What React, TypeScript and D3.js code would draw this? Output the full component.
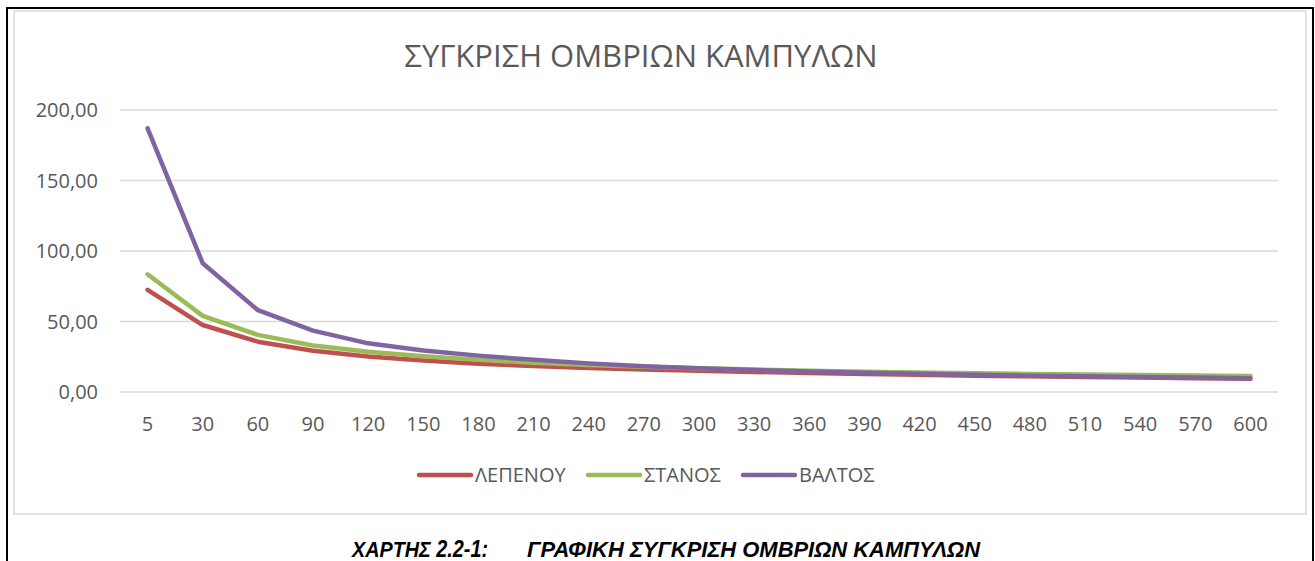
// App.tsx
import React, { useRef, useEffect } from 'react';
import * as d3 from 'd3';

const durations = [5, 30, 60, 90, 120, 150, 180, 210, 240, 270, 300, 330, 360, 390, 420, 450, 480, 510, 540, 570, 600];

const lepenou = [72.5, 47.5, 35.7, 29.3, 25.2, 22.3, 20.1, 18.4, 17.0, 15.9, 15.0, 14.2, 13.5, 12.8, 12.2, 11.6, 11.1, 10.6, 10.2, 9.8, 9.4];
const stanos = [83.5, 54.0, 40.5, 33.0, 28.5, 25.3, 22.8, 20.8, 19.2, 17.9, 16.8, 15.9, 15.1, 14.4, 13.8, 13.3, 12.8, 12.4, 12.0, 11.7, 11.4];
const valtos = [187.0, 91.3, 58.0, 43.5, 34.5, 29.5, 25.8, 22.8, 20.3, 18.3, 16.8, 15.6, 14.6, 13.7, 12.9, 12.2, 11.6, 11.1, 10.6, 10.2, 9.8];

const seriesNames = ['ΛΕΠΕΝΟΥ', 'ΣΤΑΝΟΣ', 'ΒΑΛΤΟΣ'];
const seriesColors = ['#C0504D', '#9BBB59', '#8064A2'];
const yTicks = [0, 50, 100, 150, 200];

const title = 'ΣΥΓΚΡΙΣΗ ΟΜΒΡΙΩΝ ΚΑΜΠΥΛΩΝ';
const captionLabel = 'ΧΑΡΤΗΣ 2.2-1:';
const captionText = 'ΓΡΑΦΙΚΗ ΣΥΓΚΡΙΣΗ ΟΜΒΡΙΩΝ ΚΑΜΠΥΛΩΝ';

const width = 1315;
const height = 561;
const font = "'Open Sans', 'DejaVu Sans', sans-serif";

const App = () => {
  const svgRef = useRef<SVGSVGElement | null>(null);

  useEffect(() => {
    if (!svgRef.current) return;
    const svg = d3.select(svgRef.current);
    svg.selectAll('*').remove();

    svg.append('rect').attr('width', width).attr('height', height).attr('fill', '#fff');

    // outer black frame (open at bottom)
    svg.append('path')
      .attr('d', `M7,${height} V8 H1313 V${height}`)
      .attr('fill', 'none')
      .attr('stroke', '#000')
      .attr('stroke-width', 2);

    // chart area border
    svg.append('rect')
      .attr('x', 14).attr('y', 11)
      .attr('width', 1292).attr('height', 503)
      .attr('fill', '#fff')
      .attr('stroke', '#D9D9D9')
      .attr('stroke-width', 1.5);

    const x = d3.scaleBand<string>()
      .domain(durations.map(String))
      .range([120, 1278])
      .padding(0);
    const cx = (d: number) => (x(String(d)) ?? 0) + x.bandwidth() / 2;

    const y = d3.scaleLinear().domain([0, 200]).range([392, 110]);

    // gridlines
    svg.append('g')
      .selectAll('line')
      .data(yTicks)
      .enter()
      .append('line')
      .attr('x1', 120).attr('x2', 1278)
      .attr('y1', d => y(d)).attr('y2', d => y(d))
      .attr('stroke', '#D9D9D9')
      .attr('stroke-width', 1.3);

    const fmt = (d: number) => d3.format('.2f')(d).replace('.', ',');

    svg.append('g')
      .selectAll('text')
      .data(yTicks)
      .enter()
      .append('text')
      .attr('x', 98)
      .attr('y', d => y(d))
      .attr('dy', '0.35em')
      .attr('text-anchor', 'end')
      .attr('font-family', font)
      .attr('font-size', 20)
      .attr('fill', '#595959')
      .text(fmt);

    svg.append('g')
      .selectAll('text')
      .data(durations)
      .enter()
      .append('text')
      .attr('x', d => cx(d))
      .attr('y', 431)
      .attr('text-anchor', 'middle')
      .attr('font-family', font)
      .attr('font-size', 20)
      .attr('fill', '#595959')
      .text(d => String(d));

    // lines
    const allSeries = [lepenou, stanos, valtos];
    const line = d3.line<number>()
      .x((_, i) => cx(durations[i]))
      .y(d => y(d));

    svg.append('g')
      .selectAll('path')
      .data(allSeries)
      .enter()
      .append('path')
      .attr('d', d => line(d))
      .attr('fill', 'none')
      .attr('stroke', (_, i) => seriesColors[i])
      .attr('stroke-width', 4.5)
      .attr('stroke-linecap', 'round')
      .attr('stroke-linejoin', 'round');

    // title
    svg.append('text')
      .attr('x', 641)
      .attr('y', 67)
      .attr('text-anchor', 'middle')
      .attr('font-family', font)
      .attr('font-size', 31)
      .attr('fill', '#595959')
      .text(title);

    // legend
    const legendX = [419, 588, 743];
    const legend = svg.append('g')
      .selectAll('g')
      .data(seriesNames)
      .enter()
      .append('g')
      .attr('transform', (_, i) => `translate(${legendX[i]}, 475)`);

    legend.append('line')
      .attr('x1', 0).attr('x2', 52)
      .attr('stroke', (_, i) => seriesColors[i])
      .attr('stroke-width', 4.5)
      .attr('stroke-linecap', 'round');

    legend.append('text')
      .attr('x', 56)
      .attr('dy', '0.35em')
      .attr('font-family', font)
      .attr('font-size', 20)
      .attr('fill', '#595959')
      .text(d => d);

    // caption
    const capFont = "'Liberation Sans Narrow', 'Arial Narrow', 'Liberation Sans', Arial, sans-serif";
    svg.append('text')
      .attr('x', 352).attr('y', 557)
      .attr('font-family', capFont)
      .attr('font-size', 23)
      .attr('font-weight', 'bold')
      .attr('font-style', 'italic')
      .attr('fill', '#000')
      .attr('textLength', 136)
      .attr('lengthAdjust', 'spacingAndGlyphs')
      .text(captionLabel);

    svg.append('text')
      .attr('x', 527).attr('y', 557)
      .attr('font-family', capFont)
      .attr('font-size', 23)
      .attr('font-weight', 'bold')
      .attr('font-style', 'italic')
      .attr('fill', '#000')
      .attr('textLength', 453)
      .attr('lengthAdjust', 'spacingAndGlyphs')
      .text(captionText);
  }, []);

  return (
    <div style={{ position: 'absolute', left: 0, top: 0 }}>
      <svg ref={svgRef} width={width} height={height} style={{ display: 'block' }}></svg>
    </div>
  );
};

export default App;
